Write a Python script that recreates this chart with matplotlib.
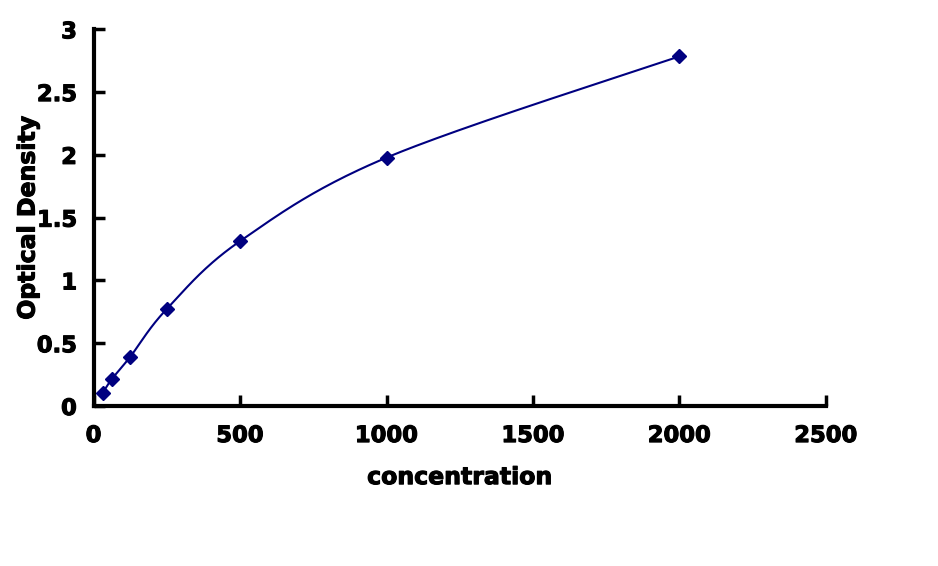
import numpy as np
import matplotlib
matplotlib.use("Agg")
import matplotlib.pyplot as plt
import matplotlib.patheffects as pe

concentration = [31.25, 62.5, 125, 250, 500, 1000, 2000]
optical_density = [0.105, 0.215, 0.392, 0.773, 1.313, 1.978, 2.785]
x_ticks = [0, 500, 1000, 1500, 2000, 2500]
y_ticks = [0, 0.5, 1, 1.5, 2, 2.5, 3]
y_tick_labels = ["0", "0.5", "1", "1.5", "2", "2.5", "3"]

W, H = 938, 566
fig = plt.figure(figsize=(W / 100, H / 100), dpi=100)
left, right, top, bottom = 93.6, 825.9, 29.3, 406.0
ax = fig.add_axes([left / W, 1 - bottom / H, (right - left) / W, (bottom - top) / H])

ax.set_xlim(0, 2500)
ax.set_ylim(0, 3)

# Excel-style smoothed line (Bezier with neighbour-based control points), in pixel space
xs = np.array(concentration, float)
ys = np.array(optical_density, float)
px = xs / 2500 * (right - left)
py = ys / 3 * (bottom - top)
pts = np.column_stack([px, py])
curve = []
n = len(pts)
t = np.linspace(0, 1, 60)
for i in range(n - 1):
    p0 = pts[i - 1] if i > 0 else pts[i]
    p1 = pts[i]
    p2 = pts[i + 1]
    p3 = pts[i + 2] if i + 2 < n else pts[i + 1]
    c1 = p1 + (p2 - p0) / 6
    c2 = p2 - (p3 - p1) / 6
    seg = ((1 - t) ** 3)[:, None] * p1 + (3 * (1 - t) ** 2 * t)[:, None] * c1 \
        + (3 * (1 - t) * t ** 2)[:, None] * c2 + (t ** 3)[:, None] * p2
    curve.append(seg)
curve = np.vstack(curve)
cx = curve[:, 0] / (right - left) * 2500
cy = curve[:, 1] / (bottom - top) * 3

navy = "#000080"
ax.plot(cx, cy, color=navy, lw=1.5, zorder=2)
ax.plot(xs, ys, linestyle="none", marker="D", markersize=7.5, color=navy,
        markeredgecolor=navy, zorder=3, clip_on=False)

for s in ["top", "right"]:
    ax.spines[s].set_visible(False)
for s in ["left", "bottom"]:
    ax.spines[s].set_linewidth(3)
    ax.spines[s].set_color("black")

heavy = [pe.withStroke(linewidth=0.8, foreground="black")]

ax.set_xticks(x_ticks)
ax.set_xticklabels([str(v) for v in x_ticks])
ax.set_yticks(y_ticks)
ax.set_yticklabels(y_tick_labels)
ax.tick_params(direction="in", length=8, width=2.5, colors="black")
ax.tick_params(axis="x", pad=13)
ax.tick_params(axis="y", pad=12)
for lab in ax.get_xticklabels() + ax.get_yticklabels():
    lab.set_fontfamily("DejaVu Sans")
    lab.set_fontweight("bold")
    lab.set_fontsize(16.3)
    lab.set_path_effects(heavy)

ax.set_xlabel("concentration", fontfamily="DejaVu Sans", fontweight="bold",
              fontsize=17, labelpad=13, path_effects=heavy)
ax.set_ylabel("Optical Density", fontfamily="DejaVu Sans", fontweight="bold",
              fontsize=17, labelpad=-2, path_effects=heavy)

fig.savefig("out.png", dpi=100, facecolor="white")
